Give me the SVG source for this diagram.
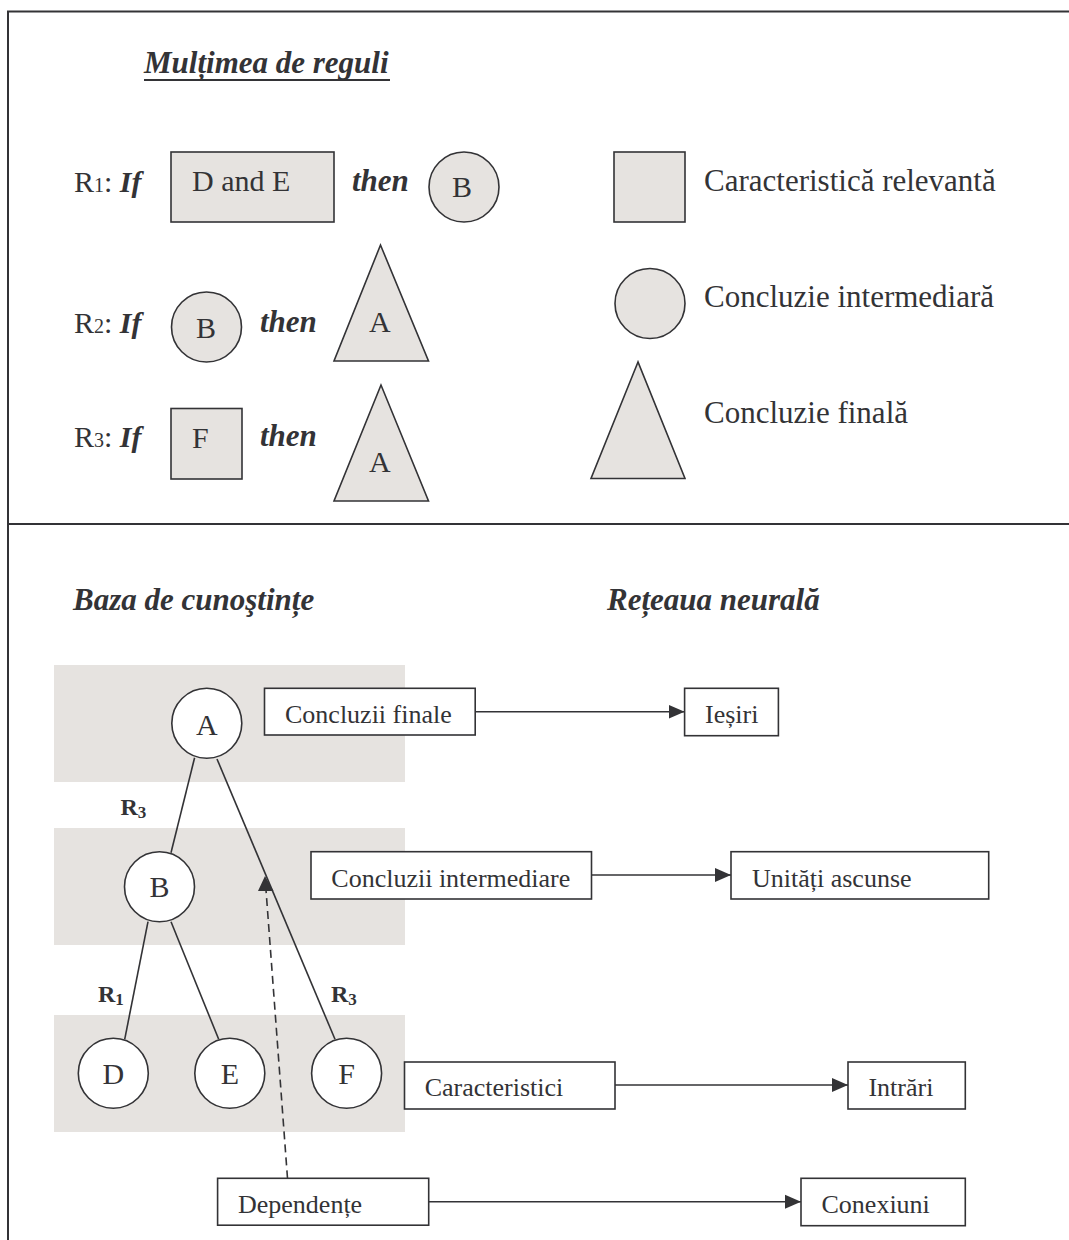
<svg xmlns="http://www.w3.org/2000/svg" width="1069" height="1240" viewBox="0 0 1069 1240">
  <style>
    text { font-family: "Liberation Serif", "Times New Roman", serif; fill: #333336; }
    .bi { font-weight: bold; font-style: italic; }
    .b { font-weight: bold; }
    .t30 { font-size: 30px; }
    .t31 { font-size: 31px; }
    .t26 { font-size: 26px; }
    .shape { fill: #e6e3e0; stroke: #333336; stroke-width: 1.6; }
    .node { fill: #ffffff; stroke: #333336; stroke-width: 1.6; }
    .box { fill: #ffffff; stroke: #333336; stroke-width: 1.6; }
    .band { fill: #e6e3e0; }
    .frame { fill: none; stroke: #333336; stroke-width: 2; }
    .edge { fill: none; stroke: #333336; stroke-width: 1.6; }
    .dash { fill: none; stroke: #333336; stroke-width: 1.6; stroke-dasharray: 8 5; }
  </style>
  <defs>
    <marker id="arrow" markerUnits="userSpaceOnUse" markerWidth="17" markerHeight="16" viewBox="0 0 17 16" refX="16" refY="8" orient="auto">
      <path d="M0,1 L16,8 L0,15 Z" fill="#333336"/>
    </marker>
  </defs>

  <rect width="1069" height="1240" fill="#ffffff"/>

  <!-- outer frame and section divider -->
  <g id="frame">
    <path class="frame" d="M8,1240 V11.5 H1069"/>
    <path class="frame" d="M8,524 H1069"/>
  </g>

  <!-- upper section: rule set -->
  <g id="title">
    <text class="bi t31" x="144" y="73">Mulțimea de reguli</text>
    <line x1="144" y1="80" x2="390" y2="80" stroke="#333336" stroke-width="2"/>
  </g>

  <g id="rule1">
    <text class="t30" x="74" y="192">R<tspan font-size="20">1</tspan>: <tspan class="bi">If</tspan></text>
    <rect class="shape" x="171" y="152" width="163" height="70"/>
    <text class="t30" x="192" y="191">D and E</text>
    <text class="bi t31" x="352" y="191">then</text>
    <circle class="shape" cx="464" cy="187" r="35"/>
    <text class="t30" x="452" y="197">B</text>
  </g>

  <g id="rule2">
    <text class="t30" x="74" y="333">R<tspan font-size="20">2</tspan>: <tspan class="bi">If</tspan></text>
    <circle class="shape" cx="206.5" cy="327" r="35"/>
    <text class="t30" x="196" y="338">B</text>
    <text class="bi t31" x="260" y="332">then</text>
    <polygon class="shape" points="380.5,245 334,361 428.5,361"/>
    <text class="t30" x="369" y="332">A</text>
  </g>

  <g id="rule3">
    <text class="t30" x="74" y="447">R<tspan font-size="20">3</tspan>: <tspan class="bi">If</tspan></text>
    <rect class="shape" x="171" y="408.5" width="71" height="70.5"/>
    <text class="t30" x="192" y="448">F</text>
    <text class="bi t31" x="260" y="446">then</text>
    <polygon class="shape" points="381,385 334,501 428.5,501"/>
    <text class="t30" x="369" y="472">A</text>
  </g>

  <!-- legend -->
  <g id="legend-feature">
    <rect class="shape" x="614" y="152" width="71" height="70"/>
    <text class="t31" x="704" y="191">Caracteristică relevantă</text>
  </g>
  <g id="legend-intermediate">
    <circle class="shape" cx="650" cy="303.5" r="35"/>
    <text class="t31" x="704" y="307">Concluzie intermediară</text>
  </g>
  <g id="legend-final">
    <polygon class="shape" points="638,362 591,478.5 685,478.5"/>
    <text class="t31" x="704" y="423">Concluzie finală</text>
  </g>

  <!-- lower section: knowledge base vs. neural network -->
  <g id="headings">
    <text class="bi t31" x="73" y="610">Baza de cunoştințe</text>
    <text class="bi t31" x="607" y="610">Rețeaua neurală</text>
  </g>

  <g id="bands">
    <rect class="band" x="54" y="665" width="351" height="117"/>
    <rect class="band" x="54" y="828" width="351" height="117"/>
    <rect class="band" x="54" y="1015" width="351" height="117"/>
  </g>

  <!-- connectors -->
  <g id="connectors">
    <line class="edge" x1="194.6" y1="757.7" x2="171" y2="852.7"/>
    <line class="edge" x1="217" y1="759" x2="335" y2="1039.3"/>
    <line class="edge" x1="148" y1="921.7" x2="124.7" y2="1039.3"/>
    <line class="edge" x1="171" y1="921.7" x2="218.7" y2="1039.3"/>
    <line class="dash" x1="287.5" y1="1178.3" x2="266" y2="890" />
    <path d="M265,876 L258,891 L273.5,891 Z" fill="#333336"/>
    <line class="edge" x1="475.2" y1="711.7" x2="684.6" y2="711.7" marker-end="url(#arrow)"/>
    <line class="edge" x1="591.5" y1="875" x2="731" y2="875" marker-end="url(#arrow)"/>
    <line class="edge" x1="615" y1="1085" x2="848" y2="1085" marker-end="url(#arrow)"/>
    <line class="edge" x1="428.7" y1="1201.7" x2="801" y2="1201.7" marker-end="url(#arrow)"/>
  </g>

  <g id="rule-labels">
    <text class="b" font-size="24" x="120.5" y="815">R<tspan font-size="17" dy="3">3</tspan></text>
    <text class="b" font-size="24" x="98" y="1001.5">R<tspan font-size="17" dy="3">1</tspan></text>
    <text class="b" font-size="24" x="331" y="1001.5">R<tspan font-size="17" dy="3">3</tspan></text>
  </g>

  <g id="node-A">
    <circle class="node" cx="206.8" cy="723.3" r="35"/>
    <text class="t30" x="206.8" y="735" text-anchor="middle">A</text>
  </g>
  <g id="node-B">
    <circle class="node" cx="159.5" cy="886.7" r="35"/>
    <text class="t30" x="159.5" y="897" text-anchor="middle">B</text>
  </g>
  <g id="node-D">
    <circle class="node" cx="113.3" cy="1073.3" r="35"/>
    <text class="t30" x="113.3" y="1084" text-anchor="middle">D</text>
  </g>
  <g id="node-E">
    <circle class="node" cx="229.8" cy="1073.3" r="35"/>
    <text class="t30" x="229.8" y="1084" text-anchor="middle">E</text>
  </g>
  <g id="node-F">
    <circle class="node" cx="346.6" cy="1073.3" r="35"/>
    <text class="t30" x="346.6" y="1084" text-anchor="middle">F</text>
  </g>

  <g id="box-final">
    <rect class="box" x="264.5" y="688.3" width="210.7" height="46.7"/>
    <text class="t26" x="285" y="723">Concluzii finale</text>
  </g>
  <g id="box-outputs">
    <rect class="box" x="684.6" y="688.3" width="93.8" height="47.4"/>
    <text class="t26" x="705" y="723">Ieșiri</text>
  </g>
  <g id="box-intermediate">
    <rect class="box" x="311" y="851.7" width="280.5" height="47.3"/>
    <text class="t26" x="331.3" y="886.5">Concluzii intermediare</text>
  </g>
  <g id="box-hidden">
    <rect class="box" x="731" y="851.7" width="257.7" height="47.3"/>
    <text class="t26" x="752" y="886.5">Unități ascunse</text>
  </g>
  <g id="box-features">
    <rect class="box" x="404.5" y="1062" width="210.5" height="47"/>
    <text class="t26" x="424.7" y="1095.5">Caracteristici</text>
  </g>
  <g id="box-inputs">
    <rect class="box" x="848" y="1062" width="117.3" height="47"/>
    <text class="t26" x="868.4" y="1095.5">Intrări</text>
  </g>
  <g id="box-dependencies">
    <rect class="box" x="217.6" y="1178.3" width="211.1" height="46.9"/>
    <text class="t26" x="238" y="1212.7">Dependențe</text>
  </g>
  <g id="box-connections">
    <rect class="box" x="801" y="1178.3" width="164.3" height="47.4"/>
    <text class="t26" x="821.5" y="1212.7">Conexiuni</text>
  </g>
</svg>
